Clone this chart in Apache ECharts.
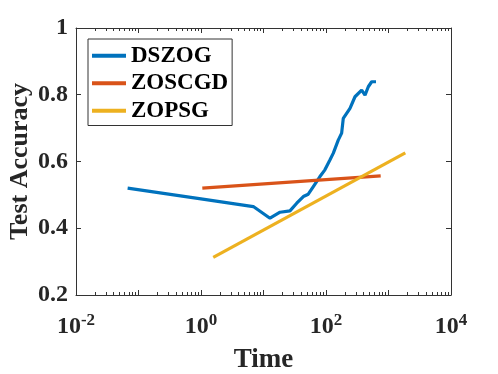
<!DOCTYPE html>
<html>
<head>
<meta charset="utf-8">
<script src="https://cdn.jsdelivr.net/npm/echarts@6/dist/echarts.min.js"></script>
<style>
* { margin: 0; padding: 0; }
#chart { width: 498px; height: 374px; background: #fff; }
</style>
</head>
<body>
<div id="chart"></div>
<script>
// values
var dszogTime = [0.067, 1.0, 6.87, 12.7, 18.4, 26.5, 34, 43.4, 52, 62.7, 80, 96, 116, 131, 157, 178, 189, 242, 291, 372, 421, 475, 538, 631];
var dszogAcc  = [0.52, 0.488, 0.465, 0.43, 0.448, 0.452, 0.475, 0.495, 0.502, 0.525, 0.555, 0.575, 0.605, 0.625, 0.664, 0.685, 0.729, 0.759, 0.794, 0.814, 0.799, 0.824, 0.839, 0.839];
var zoscgdTime = [1.05, 750];
var zoscgdAcc  = [0.52, 0.557];
var zopsgTime = [1.57, 1858];
var zopsgAcc  = [0.313, 0.626];

var seriesNames = ['DSZOG', 'ZOSCGD', 'ZOPSG'];
var seriesColors = ['#0072BD', '#D95319', '#EDB120'];

var labelDecades = [-2, 0, 2, 4];
var minorVals = [];
for (var e = -2; e < 4; e++) {
  for (var m = 2; m <= 9; m++) minorVals.push(m * Math.pow(10, e));
}

function pairs(xs, ys) {
  var out = [];
  for (var i = 0; i < xs.length; i++) out.push([xs[i], ys[i]]);
  return out;
}

var font = 'Liberation Serif';
var axisColor = '#333';

function logAxis(pos, major) {
  return {
    type: 'log', logBase: 10, min: 0.01, max: 10000, position: pos,
    gridIndex: 0,
    axisLine: { show: major, onZero: false, lineStyle: { color: axisColor, width: 1 } },
    axisTick: major ? { show: true, inside: true, length: 5, lineStyle: { color: axisColor } }
                    : { show: true, inside: true, length: 3, customValues: minorVals, lineStyle: { color: axisColor } },
    splitLine: { show: false },
    axisLabel: (major && pos === 'bottom') ? {
      show: true, margin: 17,
      formatter: function (v) {
        var ex = Math.round(Math.log10(v));
        if (labelDecades.indexOf(ex) < 0) return '';
        return '{b|10}{s|' + ex + '}';
      },
      rich: {
        b: { fontFamily: font, fontWeight: 'bold', fontSize: 24, color: '#262626', lineHeight: 28 },
        s: { fontFamily: font, fontWeight: 'bold', fontSize: 17, color: '#262626', verticalAlign: 'top', padding: [0, 0, 13, 0] }
      }
    } : { show: false }
  };
}

function valAxis(pos, show) {
  return {
    type: 'value', min: 0.2, max: 1, interval: 0.2, position: pos, gridIndex: 0,
    axisLine: { show: true, lineStyle: { color: axisColor, width: 1 } },
    axisTick: { show: true, inside: true, length: 5, lineStyle: { color: axisColor } },
    splitLine: { show: false },
    name: show ? 'Test Accuracy' : '',
    nameLocation: 'middle', nameGap: 43, nameRotate: 90, nameMoveOverlap: false,
    nameTextStyle: { fontFamily: font, fontWeight: 'bold', fontSize: 26, color: '#262626' },
    axisLabel: show ? {
      margin: 8, fontFamily: font, fontWeight: 'bold', fontSize: 24, color: '#262626',
      formatter: function (v) { return String(+v.toFixed(1)); }
    } : { show: false }
  };
}

var xMain = logAxis('bottom', true);
xMain.name = 'Time';
xMain.nameLocation = 'middle';
xMain.nameGap = 52;
xMain.nameMoveOverlap = false;
xMain.nameTextStyle = { fontFamily: font, fontWeight: 'bold', fontSize: 27, color: '#262626' };

var chart = echarts.init(document.getElementById('chart'), null, { renderer: 'canvas' });
chart.setOption({
  animation: false,
  grid: { left: 76, top: 28, right: 47, bottom: 79, containLabel: false, outerBoundsMode: 'none' },
  legend: {
    orient: 'vertical', left: 88, top: 39,
    padding: [5, 4, 3, 4], itemGap: 4,
    itemWidth: 34, itemHeight: 4,
    backgroundColor: '#fff', borderColor: '#333', borderWidth: 1, borderRadius: 0,
    icon: 'rect',
    textStyle: { fontFamily: font, fontWeight: 'bold', fontSize: 23, color: '#000', lineHeight: 23.5 },
    data: seriesNames
  },
  xAxis: [xMain, logAxis('top', true), logAxis('bottom', false), logAxis('top', false)],
  yAxis: [valAxis('left', true), valAxis('right', false)],
  series: [
    { name: seriesNames[0], type: 'line', data: pairs(dszogTime, dszogAcc) },
    { name: seriesNames[1], type: 'line', data: pairs(zoscgdTime, zoscgdAcc) },
    { name: seriesNames[2], type: 'line', data: pairs(zopsgTime, zopsgAcc) }
  ].map(function (s, i) {
    s.xAxisIndex = 0; s.yAxisIndex = 0;
    s.showSymbol = false; s.symbol = 'none';
    s.color = seriesColors[i];
    s.lineStyle = { width: 3.2, color: seriesColors[i] };
    return s;
  })
});
</script>
</body>
</html>
